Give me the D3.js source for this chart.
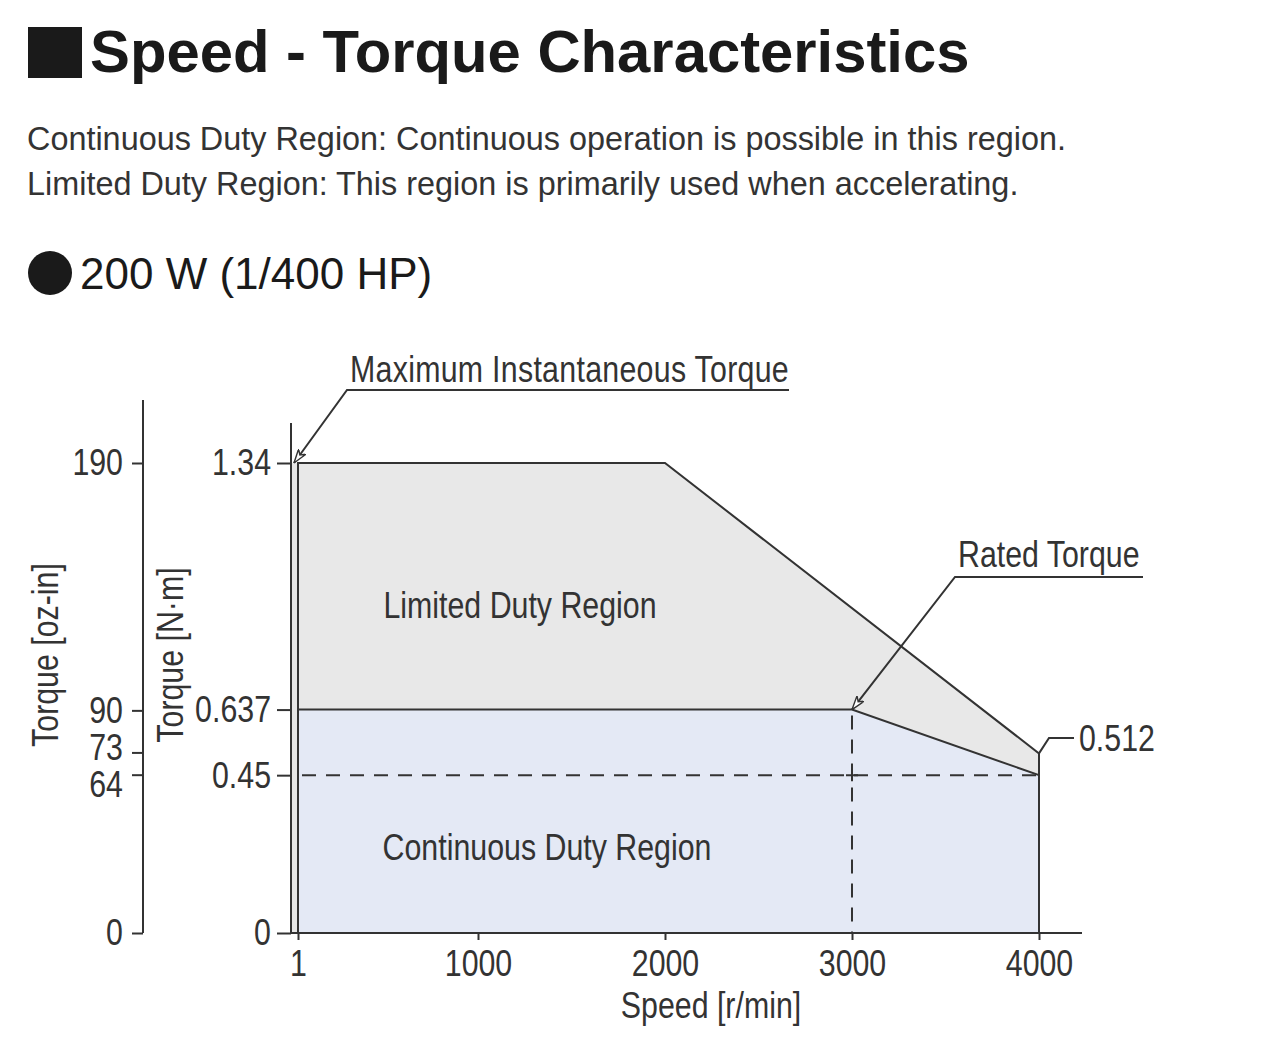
<!DOCTYPE html>
<html>
<head>
<meta charset="utf-8">
<script src="https://cdn.jsdelivr.net/npm/d3@7"></script>
<style>
  body { margin: 0; background: #fff; }
  svg { display: block; }
  .narrow { font-family: "Liberation Sans", Arial, sans-serif; font-size: 37px; fill: #333; }
  .axis path, .axis line { stroke: #333; stroke-width: 2; }
  .axis text { font-family: "Liberation Sans", Arial, sans-serif; font-size: 37px; fill: #333; }
</style>
</head>
<body>
<svg id="chart" width="1280" height="1043"></svg>
<script>
// data
var speedTicks = [1, 1000, 2000, 3000, 4000];
var nmTicks = [0, 0.45, 0.637, 1.34];
var ozTicks = [0, 64, 73, 90, 190];
var maxCurve = [[1, 1.34], [2000, 1.34], [4000, 0.512]];   // limited duty boundary
var ratedCurve = [[1, 0.637], [3000, 0.637], [4000, 0.45]]; // continuous duty boundary
var ratedSpeed = 3000, ratedNm = 0.637, contNm = 0.45, endNm = 0.512;

var SX = 0.82; // condensed look, no narrow font installed
var svg = d3.select("#chart");

function narrowText(x, y, str, anchor, rot) {
    return svg.append("text").attr("class", "narrow")
        .attr("transform", "translate(" + x + "," + y + ")" + (rot ? " rotate(" + rot + ")" : "") + " scale(" + SX + ",1)")
        .attr("text-anchor", anchor || "start").text(str);
}
function condenseTicks(g) {
    g.selectAll(".tick text").each(function () {
        var t = d3.select(this);
        t.attr("x", (+t.attr("x") || 0) / SX).attr("transform", "scale(" + SX + ",1)");
    });
}

// header
svg.append("rect").attr("x", 28).attr("y", 27).attr("width", 54).attr("height", 51).attr("fill", "#1a1a1a");
svg.append("text").attr("x", 90).attr("y", 72)
    .style("font-family", "'Liberation Sans', Arial, sans-serif").style("font-weight", "bold")
    .style("font-size", "59.8px").attr("fill", "#1a1a1a")
    .text("Speed - Torque Characteristics");
var sub = ["Continuous Duty Region: Continuous operation is possible in this region.",
           "Limited Duty Region: This region is primarily used when accelerating."];
svg.selectAll("text.sub").data(sub).enter().append("text").attr("class", "sub")
    .attr("x", 27).attr("y", function (d, i) { return 150 + i * 45; })
    .style("font-family", "'Liberation Sans', Arial, sans-serif").style("font-size", "32.4px")
    .attr("fill", "#333").text(function (d) { return d; });
svg.append("circle").attr("cx", 50).attr("cy", 273).attr("r", 22).attr("fill", "#1a1a1a");
svg.append("text").attr("x", 80).attr("y", 289)
    .style("font-family", "'Liberation Sans', Arial, sans-serif").style("font-size", "44px")
    .attr("fill", "#1a1a1a").text("200 W (1/400 HP)");

// scales
var x = d3.scaleLinear().domain([1, 1000, 4000]).range([298, 478, 1039]);
var y = d3.scaleLinear().domain([0, 1.34]).range([933, 463]);
var yOz = d3.scaleLinear().domain([0, 190]).range([933, 463]);
var axisX0 = 291;

var line = d3.line().x(function (d) { return x(d[0]); }).y(function (d) { return y(d[1]); });

// fills
var limitedPoly = maxCurve.concat(ratedCurve.slice().reverse());
var contPoly = ratedCurve.concat([[4000, 0], [1, 0]]);
svg.append("rect").attr("x", axisX0).attr("y", y(1.34)).attr("width", x(1) - axisX0)
    .attr("height", y(0) - y(1.34)).attr("fill", "#e6e6e6");
svg.append("path").attr("d", line(limitedPoly) + "Z").attr("fill", "#e8e8e8");
svg.append("path").attr("d", line(contPoly) + "Z").attr("fill", "#e4e9f5");

// dashed guides
svg.append("line").attr("x1", x(1) + 4).attr("x2", x(4000)).attr("y1", y(contNm)).attr("y2", y(contNm))
    .attr("stroke", "#333").attr("stroke-width", 2).attr("stroke-dasharray", "14,10");
svg.append("line").attr("x1", x(ratedSpeed)).attr("x2", x(ratedSpeed)).attr("y1", y(ratedNm) + 6).attr("y2", y(0))
    .attr("stroke", "#333").attr("stroke-width", 2).attr("stroke-dasharray", "14,10");
svg.append("path").attr("d", "M" + (x(ratedSpeed) - 6) + "," + y(contNm) + "h12M" + x(ratedSpeed) + "," + (y(contNm) - 6) + "v12")
    .attr("stroke", "#333").attr("stroke-width", 2);

// outlines
var outline = [[1, 0]].concat(maxCurve).concat([[4000, 0]]);
svg.append("path").attr("d", line(outline)).attr("fill", "none").attr("stroke", "#333").attr("stroke-width", 2);
svg.append("path").attr("d", line(ratedCurve)).attr("fill", "none").attr("stroke", "#333").attr("stroke-width", 2);

// axes
var xAxis = svg.append("g").attr("class", "axis").attr("transform", "translate(0," + y(0) + ")")
    .call(d3.axisBottom(x).tickValues(speedTicks).tickFormat(d3.format("d")).tickSize(7).tickPadding(10));
xAxis.select(".domain").remove();
xAxis.append("line").attr("x1", axisX0).attr("x2", x(4000) + 43).attr("y1", 0).attr("y2", 0);
condenseTicks(xAxis);

var nmAxis = svg.append("g").attr("class", "axis").attr("transform", "translate(" + axisX0 + ",0)")
    .call(d3.axisLeft(y).tickValues(nmTicks).tickFormat(function (d) { return d; }).tickSize(14).tickPadding(6));
nmAxis.select(".domain").attr("d", "M0,423V" + y(0));
condenseTicks(nmAxis);

var ozAxis = svg.append("g").attr("class", "axis").attr("transform", "translate(143,0)")
    .call(d3.axisLeft(yOz).tickValues(ozTicks).tickSize(11).tickPadding(9));
ozAxis.select(".domain").attr("d", "M0,400V" + yOz(0));
ozAxis.selectAll(".tick text").attr("dy", function (d) { return d === 64 ? "0.6em" : d === 73 ? "0.2em" : "0.32em"; });
condenseTicks(ozAxis);

// axis titles
narrowText(58, 655, "Torque [oz-in]", "middle", -90);
narrowText(183, 655, "Torque [N\u00b7m]", "middle", -90);
narrowText(711, 1018, "Speed [r/min]", "middle");

// region labels
narrowText(520, 618, "Limited Duty Region", "middle");
narrowText(547, 860, "Continuous Duty Region", "middle");

// annotations
var defs = svg.append("defs");
defs.append("marker").attr("id", "arrow").attr("viewBox", "0 -5 14 10").attr("refX", 14).attr("refY", 0)
    .attr("markerWidth", 14).attr("markerHeight", 10).attr("markerUnits", "userSpaceOnUse").attr("orient", "auto")
    .append("path").attr("d", "M0,-4.5L14,0L0,4.5L4,0Z").attr("fill", "#fff").attr("stroke", "#333").attr("stroke-width", 1.4);

narrowText(350, 382, "Maximum Instantaneous Torque").attr("textLength", 535).attr("lengthAdjust", "spacing");
svg.append("path").attr("d", "M789,390H347L" + (x(1) - 4) + "," + y(1.34))
    .attr("fill", "none").attr("stroke", "#333").attr("stroke-width", 2).attr("marker-end", "url(#arrow)");

narrowText(958, 567, "Rated Torque");
svg.append("path").attr("d", "M1143,577H955L" + x(ratedSpeed) + "," + y(ratedNm))
    .attr("fill", "none").attr("stroke", "#333").attr("stroke-width", 2).attr("marker-end", "url(#arrow)");

svg.append("path").attr("d", "M" + x(4000) + "," + y(endNm) + "L" + (x(4000) + 10) + ",738H1074")
    .attr("fill", "none").attr("stroke", "#333").attr("stroke-width", 2);
narrowText(1079, 751, endNm);
</script>
</body>
</html>
